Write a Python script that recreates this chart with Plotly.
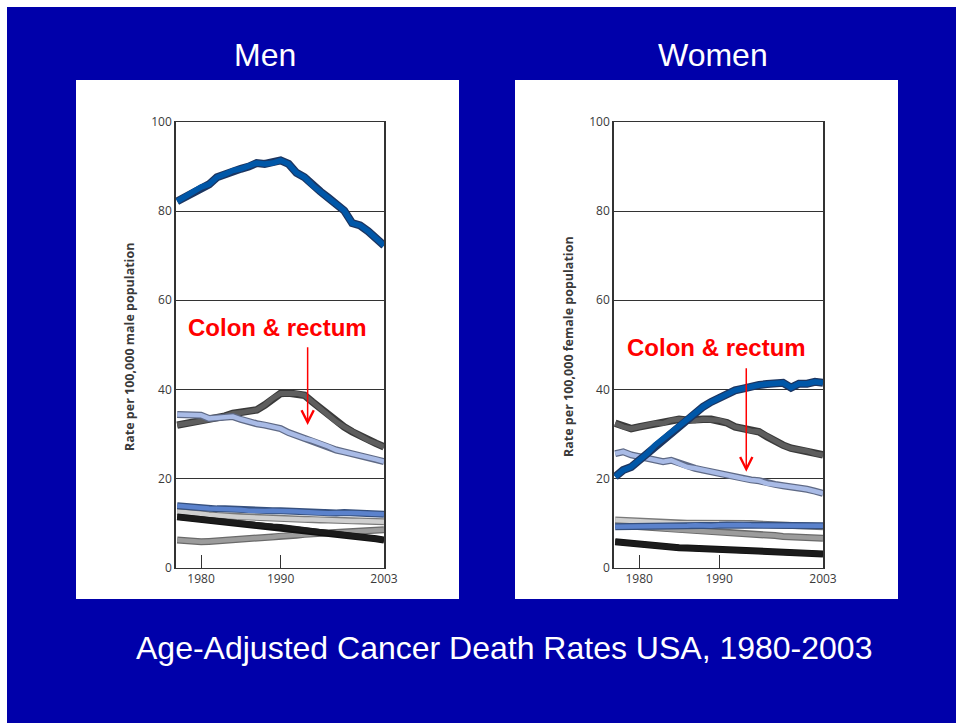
import plotly.graph_objects as go

W, H = 956, 723

years = list(range(1977, 2004))

# ---- Men (rate per 100,000)
men_lung = [82.2, 83.2, 84.3, 85.4, 86.0, 87.6, 88.3, 89.1, 89.5, 90.0, 90.8, 90.6, 90.8, 91.4,
            90.6, 88.6, 87.6, 85.8, 84.4, 83.0, 81.6, 80.1, 77.3, 76.8, 75.5, 74.0, 72.3]
men_prostate = [32.0, 32.3, 32.6, 32.7, 33.1, 33.5, 34.0, 34.6, 34.8, 35.0, 35.4, 36.5, 38.0, 39.1,
                39.2, 39.1, 38.7, 37.2, 35.7, 34.2, 32.7, 31.6, 30.5, 29.5, 28.6, 27.9, 27.1]
men_colon = [34.4, 34.3, 34.3, 34.2, 33.5, 33.6, 33.8, 33.9, 33.3, 32.7, 32.3, 32.0, 31.6, 31.2,
             30.3, 29.6, 29.0, 28.5, 27.9, 27.2, 26.4, 26.0, 25.6, 25.3, 24.9, 24.3, 23.8]
men_blue = [13.9, 13.7, 13.5, 13.4, 13.3, 13.2, 13.2, 13.1, 13.0, 12.8, 12.7, 12.7, 12.8, 12.8,
            12.7, 12.6, 12.5, 12.4, 12.2, 12.2, 12.3, 12.4, 12.3, 12.2, 12.2, 12.1, 12.0]
men_lgray = [12.6, 12.5, 12.3, 12.1, 11.9, 11.7, 11.6, 11.5, 11.4, 11.3, 11.2, 11.1, 11.0, 11.0,
             10.9, 10.9, 10.8, 10.8, 10.7, 10.7, 10.6, 10.6, 10.5, 10.5, 10.4, 10.4, 10.3]
men_black = [11.4, 11.2, 11.0, 10.9, 10.7, 10.5, 10.3, 10.1, 9.9, 9.7, 9.5, 9.4, 9.3, 9.2,
             9.0, 8.7, 8.5, 8.3, 8.1, 7.8, 7.6, 7.3, 7.1, 6.9, 6.7, 6.5, 6.2]
men_mgray = [6.2, 6.0, 5.9, 5.8, 5.9, 6.0, 6.1, 6.2, 6.3, 6.4, 6.5, 6.7, 6.9, 7.1,
             7.2, 7.3, 7.5, 7.6, 7.7, 7.8, 7.9, 8.0, 8.1, 8.2, 8.3, 8.4, 8.5]

# ---- Women
women_lung = [20.4, 21.9, 22.6, 24.1, 25.6, 27.5, 29.0, 30.1, 31.6, 33.1, 34.6, 36.1, 37.2, 38.0,
              39.1, 39.8, 40.2, 40.7, 41.0, 41.2, 41.3, 41.5, 40.4, 41.3, 41.3, 41.7, 41.5]
women_breast = [32.4, 31.6, 31.2, 31.6, 32.0, 32.4, 32.4, 33.1, 33.3, 33.1, 33.0, 33.3, 33.3, 33.1,
                32.5, 31.6, 31.2, 30.7, 30.5, 29.4, 28.3, 27.5, 26.8, 26.5, 26.2, 25.6, 25.3]
women_colon = [25.6, 26.0, 25.3, 24.9, 24.5, 24.0, 23.8, 24.1, 23.4, 22.6, 22.3, 21.9, 21.5, 21.0,
               20.6, 20.2, 20.0, 19.7, 19.5, 18.9, 18.7, 18.4, 18.2, 17.9, 17.6, 17.2, 16.7]
women_lgray = [10.7, 10.6, 10.4, 10.3, 10.2, 10.1, 10.1, 10.0, 10.0, 10.0, 10.0, 10.0, 10.1, 10.2,
               10.2, 10.1, 10.0, 9.9, 9.8, 9.7, 9.6, 9.5, 9.5, 9.4, 9.4, 9.3, 9.2]
women_mgray = [9.6, 9.5, 9.4, 9.3, 9.2, 9.0, 8.8, 8.6, 8.5, 8.4, 8.3, 8.2, 8.2, 8.1,
               8.0, 7.9, 7.8, 7.7, 7.6, 7.4, 7.2, 7.0, 6.9, 6.8, 6.7, 6.7, 6.6]
women_blue = [9.2, 9.2, 9.2, 9.2, 9.2, 9.2, 9.3, 9.4, 9.4, 9.4, 9.5, 9.4, 9.4, 9.5,
              9.6, 9.6, 9.6, 9.5, 9.5, 9.4, 9.4, 9.4, 9.4, 9.5, 9.5, 9.5, 9.4]
women_black = [5.8, 5.6, 5.4, 5.3, 5.1, 5.0, 4.9, 4.7, 4.5, 4.4, 4.3, 4.3, 4.3, 4.3,
               4.1, 4.0, 3.9, 3.8, 3.8, 3.7, 3.6, 3.5, 3.4, 3.3, 3.3, 3.2, 3.1]

# line styles: (core colour, outline colour, core width, outline width)
STYLE = {
    "lung": ("#0057a8", "#1c3560", 5.5, 8),
    "dgray": ("#5e5e5e", "#3a3a3a", 5, 7.5),
    "colon": ("#a9bbe6", "#5f6a86", 4.5, 7),
    "blue": ("#5b82cc", "#36507e", 4.5, 7),
    "lgray": ("#cfcfcf", "#7a7a7a", 4.5, 7),
    "mgray": ("#9c9c9c", "#6a6a6a", 4.5, 7),
    "black": ("#1b1b1b", "#111111", 5.5, 7),
}


# screen pixel -> paper fraction
def px_x(p):
    return p / W


def px_y(p):
    return 1 - p / H


fig = go.Figure()


def add_series(y, style, xa, ya):
    core, edge, wc, we = STYLE[style]
    fig.add_trace(go.Scatter(x=years, y=y, mode="lines", xaxis=xa, yaxis=ya,
                             line=dict(color=edge, width=we), hoverinfo="skip"))
    fig.add_trace(go.Scatter(x=years, y=y, mode="lines", xaxis=xa, yaxis=ya,
                             line=dict(color=core, width=wc)))


# men panel (draw order: back to front)
for y, s in [(men_mgray, "mgray"), (men_lgray, "lgray"), (men_black, "black"), (men_blue, "blue"),
             (men_prostate, "dgray"), (men_colon, "colon"), (men_lung, "lung")]:
    add_series(y, s, "x", "y")

# women panel
for y, s in [(women_black, "black"), (women_mgray, "mgray"), (women_lgray, "lgray"), (women_blue, "blue"),
             (women_breast, "dgray"), (women_colon, "colon"), (women_lung, "lung")]:
    add_series(y, s, "x2", "y2")

axis_font = dict(family="Open Sans", size=12, color="#3a3a3a")
xcommon = dict(range=[1976.85, 2003], tickvals=[1980, 1990, 2003], ticktext=["1980", "1990", "2003"],
               ticks="inside", ticklen=13, tickcolor="#333", tickwidth=1,
               showline=True, linecolor="#333", linewidth=1, mirror=True,
               showgrid=False, zeroline=False, tickfont=axis_font, fixedrange=True)
ycommon = dict(range=[0, 100], tickvals=[0, 20, 40, 60, 80, 100],
               showline=True, linecolor="#333", linewidth=1.5, mirror=True,
               showgrid=True, gridcolor="#333", gridwidth=1, zeroline=False,
               ticks="", tickfont=axis_font, fixedrange=True)

y_dom = [px_y(567.7), px_y(122)]
fig.update_layout(
    width=W, height=H,
    margin=dict(l=0, r=0, t=0, b=0, autoexpand=False),
    paper_bgcolor="white",
    plot_bgcolor="white",
    showlegend=False,
    xaxis=dict(domain=[px_x(176), px_x(384)], anchor="y", **xcommon),
    yaxis=dict(domain=y_dom, anchor="x", **ycommon),
    xaxis2=dict(domain=[px_x(614), px_x(823)], anchor="y2", **xcommon),
    yaxis2=dict(domain=y_dom, anchor="x2", **ycommon),
)

# blue slide (thin white strip top/left) and white panels behind the two charts
fig.add_shape(type="rect", xref="paper", yref="paper", x0=px_x(7), x1=1, y0=0, y1=px_y(7),
              fillcolor="#0000aa", line_width=0, layer="below")
for l, r in [(76, 459), (515, 898)]:
    fig.add_shape(type="rect", xref="paper", yref="paper", x0=px_x(l), x1=px_x(r), y0=px_y(599), y1=px_y(80),
                  fillcolor="white", line_width=0, layer="below")

title_font = dict(family="Liberation Sans", size=32, color="white")
for txt, x, y in [("Men", 265, 55), ("Women", 713, 55),
                  ("Age-Adjusted Cancer Death Rates USA, 1980-2003", 504, 648)]:
    fig.add_annotation(text=txt, xref="paper", yref="paper", x=px_x(x), y=px_y(y),
                       xanchor="center", yanchor="middle", showarrow=False, font=title_font)

ytitle_font = dict(family="Open Sans", size=12.5, color="#3a3a3a")
for txt, x in [("<b>Rate per 100,000 male population</b>", 129), ("<b>Rate per 100,000 female population</b>", 568)]:
    fig.add_annotation(text=txt, xref="paper", yref="paper", x=px_x(x), y=px_y(347),
                       xanchor="center", yanchor="middle", textangle=-90, showarrow=False, font=ytitle_font)

# colon & rectum callouts
red_font = dict(family="Liberation Sans", size=24, color="#ff0000")
for xr, yr, lab_y, y0, y1 in [("x", "y", 54.0, 49.8, 32.0), ("x2", "y2", 49.5, 45.1, 21.5)]:
    fig.add_annotation(text="<b>Colon &amp; rectum</b>", xref=xr, yref=yr, x=1989.65, y=lab_y,
                       xanchor="center", yanchor="middle", showarrow=False, font=red_font)
    fig.add_annotation(x=1993.4, y=y1, ax=1993.4, ay=y0, xref=xr, yref=yr, axref=xr, ayref=yr,
                       text="", showarrow=True, arrowhead=5, arrowsize=1.6, arrowwidth=1.5,
                       arrowcolor="#ff0000")

# drop the default body margin so the 956x723 figure fills the window
fig.write_html("out.html", config={"displayModeBar": False},
               post_script="document.body.style.margin='0';")
